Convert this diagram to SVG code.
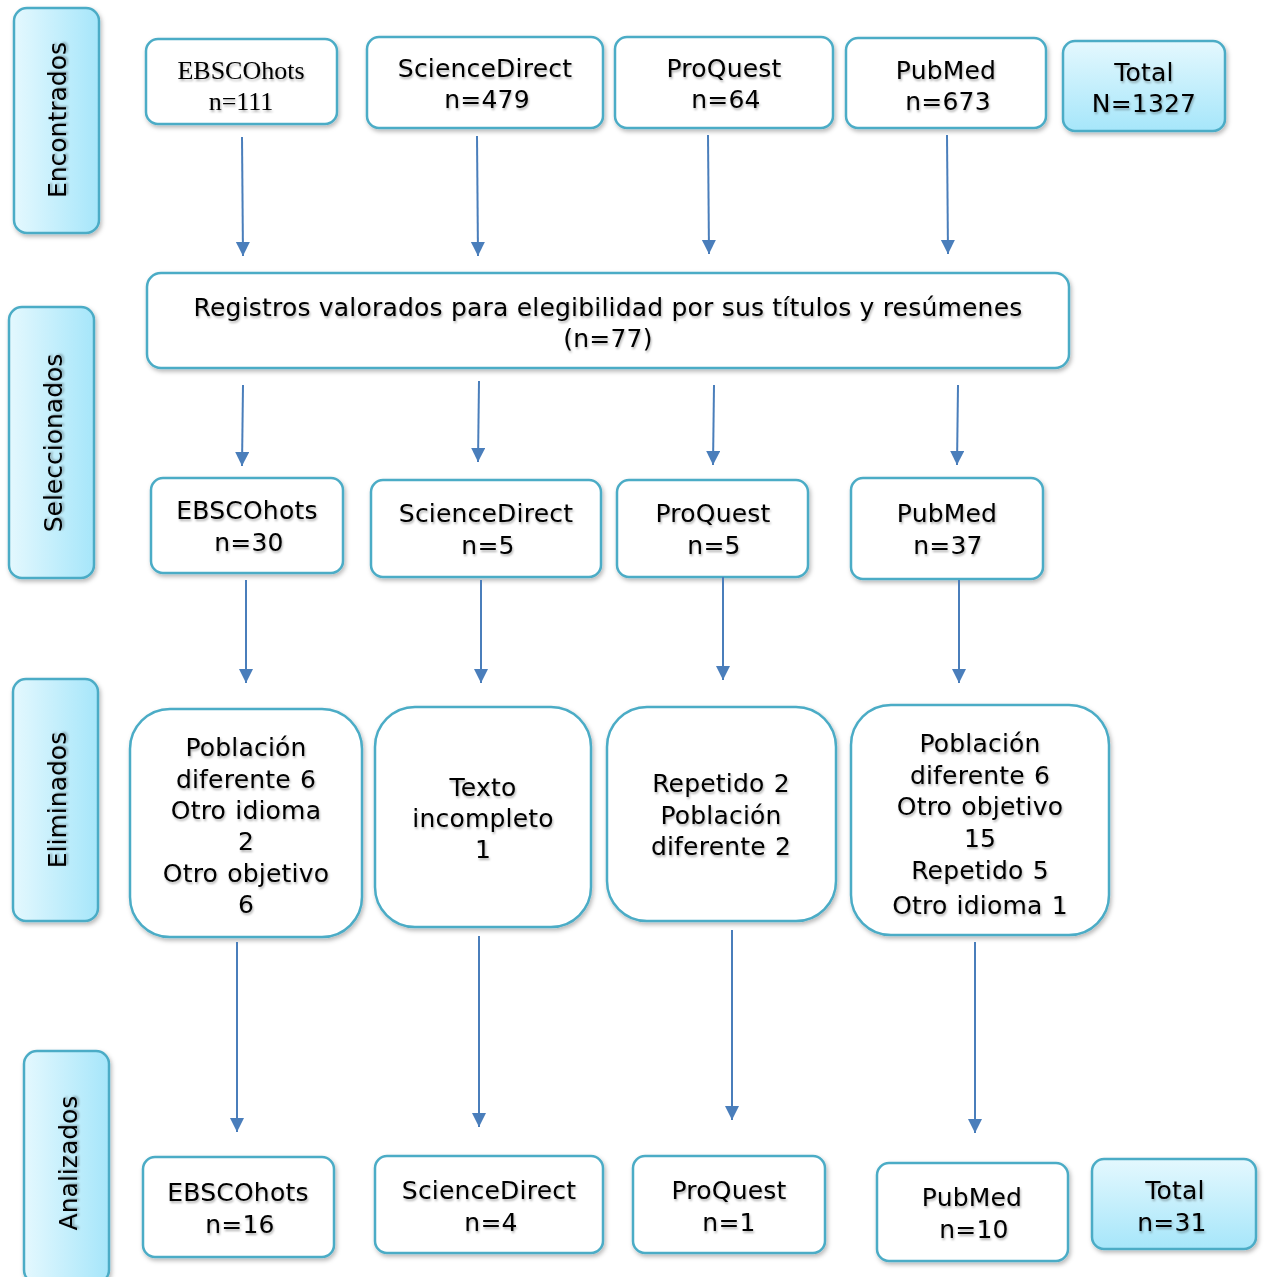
<svg xmlns="http://www.w3.org/2000/svg" width="1267" height="1277" viewBox="0 0 1267 1277">
<defs>
<linearGradient id="cyan" x1="0" y1="0" x2="1" y2="0">
<stop offset="0" stop-color="#e4f8fe"/>
<stop offset="1" stop-color="#a6e6fa"/>
</linearGradient>
<linearGradient id="cyanV" x1="0" y1="0" x2="0" y2="1">
<stop offset="0" stop-color="#e4f8fe"/>
<stop offset="1" stop-color="#a6e6fa"/>
</linearGradient>
<filter id="sh" x="-10%" y="-10%" width="130%" height="130%">
<feDropShadow dx="1.5" dy="2.5" stdDeviation="2" flood-color="#000" flood-opacity="0.28"/>
</filter>
<filter id="tsh" x="-5%" y="-20%" width="110%" height="150%">
<feDropShadow dx="1" dy="2" stdDeviation="1.2" flood-color="#000" flood-opacity="0.3"/>
</filter>
<marker id="ah" markerUnits="userSpaceOnUse" markerWidth="16" markerHeight="16" refX="14" refY="7" orient="auto">
<path d="M0,0 L14,7 L0,14 Z" fill="#4a7ebb"/>
</marker>
</defs>
<style>
.box{fill:#fff;stroke:#4bacc6;stroke-width:2.5;filter:url(#sh)}
.side{fill:url(#cyan);stroke:#4bacc6;stroke-width:2.5;filter:url(#sh)}
.tot{fill:url(#cyanV);stroke:#4bacc6;stroke-width:2.5;filter:url(#sh)}
text{font-family:"DejaVu Sans",Verdana,sans-serif;font-size:25px;letter-spacing:0.2px;word-spacing:1px;fill:#000;text-anchor:middle;filter:url(#tsh)}
.serif{font-family:"Liberation Serif","Times New Roman",serif;font-size:26px;letter-spacing:0}
.sl{font-size:25px;letter-spacing:0;word-spacing:0}
.big{font-size:25px;letter-spacing:0.2px;word-spacing:0}
.con{stroke:#4a7ebb;stroke-width:2;fill:none;marker-end:url(#ah)}
</style>

<g id="lbl-encontrados">
<rect class="side" x="14" y="8" width="85" height="225" rx="13"/>
<text class="sl" transform="translate(57,120) rotate(-90)" y="9">Encontrados</text>
</g>
<g id="lbl-seleccionados">
<rect class="side" x="9" y="307" width="85" height="271" rx="13"/>
<text class="sl" transform="translate(53,443) rotate(-90)" y="9">Seleccionados</text>
</g>
<g id="lbl-eliminados">
<rect class="side" x="13" y="679" width="85" height="242" rx="13"/>
<text class="sl" transform="translate(57,800) rotate(-90)" y="9">Eliminados</text>
</g>
<g id="lbl-analizados">
<rect class="side" x="24" y="1051" width="85" height="232" rx="13"/>
<text class="sl" transform="translate(68,1163) rotate(-90)" y="9">Analizados</text>
</g>

<g id="f-ebsco">
<rect class="box" x="146" y="39" width="191" height="85" rx="12"/>
<text class="serif" x="241" y="79">EBSCOhots</text>
<text class="serif" x="241" y="110">n=111</text>
</g>
<g id="f-sd">
<rect class="box" x="367" y="37" width="236" height="91" rx="12"/>
<text x="485" y="77">ScienceDirect</text>
<text x="487" y="108">n=479</text>
</g>
<g id="f-pq">
<rect class="box" x="615" y="37" width="218" height="91" rx="12"/>
<text x="724" y="77">ProQuest</text>
<text x="726" y="108">n=64</text>
</g>
<g id="f-pm">
<rect class="box" x="846" y="38" width="200" height="90" rx="12"/>
<text x="946" y="79">PubMed</text>
<text x="948" y="110">n=673</text>
</g>
<g id="f-total">
<rect class="tot" x="1063" y="41" width="162" height="90" rx="12"/>
<text x="1144" y="81">Total</text>
<text x="1144" y="112">N=1327</text>
</g>

<g id="reg">
<rect class="box" x="147" y="273" width="922" height="95" rx="14"/>
<text class="big" x="608" y="316">Registros valorados para elegibilidad por sus títulos y resúmenes</text>
<text class="big" x="608" y="347">(n=77)</text>
</g>

<g id="s-ebsco">
<rect class="box" x="151" y="478" width="192" height="95" rx="12"/>
<text x="247" y="519">EBSCOhots</text>
<text x="249" y="551">n=30</text>
</g>
<g id="s-sd">
<rect class="box" x="371" y="480" width="230" height="97" rx="12"/>
<text x="486" y="522">ScienceDirect</text>
<text x="488" y="554">n=5</text>
</g>
<g id="s-pq">
<rect class="box" x="617" y="480" width="191" height="97" rx="12"/>
<text x="713" y="522">ProQuest</text>
<text x="714" y="554">n=5</text>
</g>
<g id="s-pm">
<rect class="box" x="851" y="478" width="192" height="101" rx="12"/>
<text x="947" y="522">PubMed</text>
<text x="948" y="554">n=37</text>
</g>

<g id="e-ebsco">
<rect class="box" x="130" y="709" width="232" height="228" rx="40"/>
<text x="246" y="756">Población</text>
<text x="246" y="788">diferente 6</text>
<text x="246" y="819">Otro idioma</text>
<text x="246" y="850">2</text>
<text x="246" y="882">Otro objetivo</text>
<text x="246" y="913">6</text>
</g>
<g id="e-sd">
<rect class="box" x="375" y="707" width="216" height="220" rx="40"/>
<text x="483" y="796">Texto</text>
<text x="483" y="827">incompleto</text>
<text x="483" y="858">1</text>
</g>
<g id="e-pq">
<rect class="box" x="607" y="707" width="229" height="214" rx="40"/>
<text x="721" y="792">Repetido 2</text>
<text x="721" y="824">Población</text>
<text x="721" y="855">diferente 2</text>
</g>
<g id="e-pm">
<rect class="box" x="851" y="705" width="258" height="230" rx="40"/>
<text x="980" y="752">Población</text>
<text x="980" y="784">diferente 6</text>
<text x="980" y="815">Otro objetivo</text>
<text x="980" y="847">15</text>
<text x="980" y="879">Repetido 5</text>
<text x="980" y="914">Otro idioma 1</text>
</g>

<g id="a-ebsco">
<rect class="box" x="143" y="1157" width="191" height="100" rx="12"/>
<text x="238" y="1201">EBSCOhots</text>
<text x="240" y="1233">n=16</text>
</g>
<g id="a-sd">
<rect class="box" x="375" y="1156" width="228" height="97" rx="12"/>
<text x="489" y="1199">ScienceDirect</text>
<text x="491" y="1231">n=4</text>
</g>
<g id="a-pq">
<rect class="box" x="633" y="1156" width="192" height="97" rx="12"/>
<text x="729" y="1199">ProQuest</text>
<text x="729" y="1231">n=1</text>
</g>
<g id="a-pm">
<rect class="box" x="877" y="1163" width="191" height="98" rx="12"/>
<text x="972" y="1206">PubMed</text>
<text x="974" y="1238">n=10</text>
</g>
<g id="a-total">
<rect class="tot" x="1092" y="1159" width="164" height="90" rx="12"/>
<text x="1175" y="1199">Total</text>
<text x="1172" y="1231">n=31</text>
</g>

<g id="connectors">
<path class="con" d="M242,137 L243,256"/>
<path class="con" d="M477,136 L478,256"/>
<path class="con" d="M708,135 L709,254"/>
<path class="con" d="M947,135 L948,254"/>
<path class="con" d="M243,385 L242,466"/>
<path class="con" d="M479,381 L478,462"/>
<path class="con" d="M714,385 L713,465"/>
<path class="con" d="M958,385 L957,465"/>
<path class="con" d="M246,580 L246,683"/>
<path class="con" d="M481,580 L481,683"/>
<path class="con" d="M723,577 L723,680"/>
<path class="con" d="M959,580 L959,683"/>
<path class="con" d="M237,942 L237,1132"/>
<path class="con" d="M479,936 L479,1127"/>
<path class="con" d="M732,930 L732,1120"/>
<path class="con" d="M975,942 L975,1133"/>
</g>
</svg>
